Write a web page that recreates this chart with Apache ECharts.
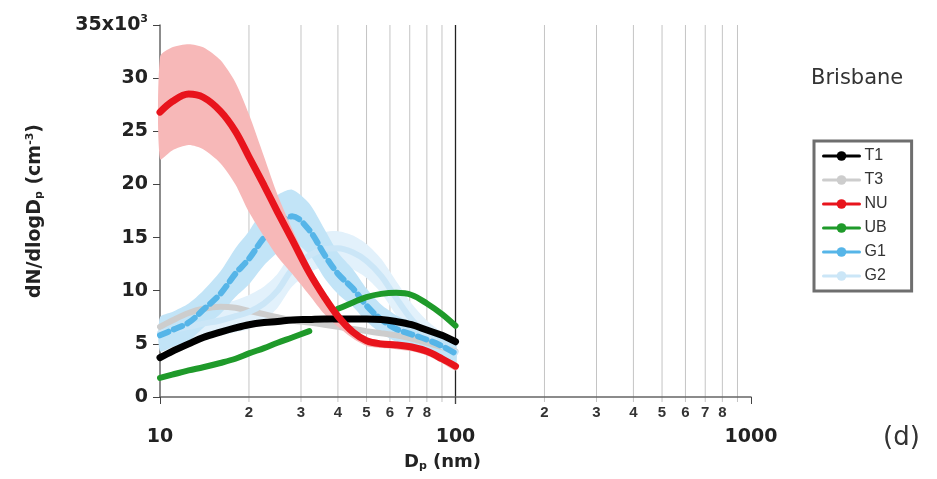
<!DOCTYPE html>
<html><head><meta charset="utf-8">
<script src="https://cdn.jsdelivr.net/npm/echarts@6/dist/echarts.min.js"></script>
<style>html,body{margin:0;padding:0;background:#fff}#c{width:937px;height:479px}</style>
</head><body><div id="c"></div>
<script>
// particle diameter (nm)
const diameters = [10, 11, 12.5, 14, 16, 18, 20, 22.5, 25, 28, 32, 36, 40, 45, 50, 56, 63, 71, 80, 90, 100];
// dN/dlogDp (x10^3 cm^-3)
const t1 = [3.7, 4.3, 5.0, 5.6, 6.1, 6.5, 6.8, 7.0, 7.1, 7.25, 7.3, 7.35, 7.35, 7.35, 7.35, 7.3, 7.1, 6.8, 6.3, 5.8, 5.2];
const t3 = [6.6, 7.2, 7.9, 8.3, 8.5, 8.4, 8.1, 7.8, 7.5, 7.2, 7.0, 6.8, 6.6, 6.4, 6.2, 6.0, 5.8, 5.5, 5.1, 4.7, 4.3];
const nu = [26.8, 27.8, 28.5, 28.2, 26.9, 25.0, 22.6, 19.9, 17.4, 14.8, 11.7, 9.4, 7.6, 6.1, 5.3, 5.0, 4.9, 4.7, 4.3, 3.6, 2.9];
const nuHigh = [32.0, 32.9, 33.2, 32.9, 31.7, 29.6, 26.6, 22.6, 19.0, 15.8, 12.4, 9.9, 8.0, 6.5, 5.6, 5.3, 5.2, 5.0, 4.6, 3.9, 3.2];
const nuLow = [22.4, 23.2, 23.7, 23.3, 22.0, 20.0, 17.4, 15.1, 13.2, 11.6, 9.6, 7.8, 6.6, 5.5, 4.8, 4.6, 4.5, 4.3, 3.9, 3.2, 2.5];
const ub = [1.8, 2.1, 2.5, 2.8, 3.2, 3.6, 4.1, 4.6, 5.1, 5.6, 6.2, null, 8.3, 8.9, 9.4, 9.7, 9.8, 9.6, 8.8, 7.8, 6.7];
const g1 = [5.8, 6.3, 7.0, 8.2, 9.7, 11.6, 13.0, 15.0, 16.2, 17.0, 15.7, 13.4, 11.6, 10.2, 8.6, 7.3, 6.4, 5.9, 5.4, 4.8, 4.1];
const g1High = [7.5, 8.0, 8.8, 10.0, 11.8, 14.0, 15.6, 17.8, 19.0, 19.5, 18.2, 15.8, 13.6, 12.0, 10.2, 8.7, 7.7, 7.1, 6.6, 5.9, 5.1];
const g1Low = [4.3, 4.7, 5.3, 6.5, 7.8, 9.4, 10.6, 12.4, 13.6, 14.6, 13.4, 11.2, 9.7, 8.5, 7.1, 6.0, 5.2, 4.8, 4.3, 3.8, 3.2];
const g2 = [6.0, 6.3, 6.6, 6.9, 7.2, 7.6, 8.0, 8.8, 10.0, 12.0, 13.3, 13.9, 14.0, 13.6, 12.8, 11.4, 9.3, 7.3, 5.8, 4.8, 4.2];
const g2High = [7.4, 7.7, 8.0, 8.3, 8.7, 9.1, 9.6, 10.4, 11.6, 13.6, 14.9, 15.5, 15.6, 15.2, 14.4, 13.0, 10.9, 8.8, 7.2, 6.1, 5.4];
const g2Low = [4.6, 4.9, 5.2, 5.5, 5.8, 6.1, 6.4, 7.2, 8.4, 10.4, 11.7, 12.3, 12.4, 12.0, 11.2, 9.8, 7.7, 5.8, 4.4, 3.5, 3.0];
// x-axis minor grid lines and their labels
const gridValues = [20, 30, 40, 50, 60, 70, 80, 90, 100, 200, 300, 400, 500, 600, 700, 800, 900];
const gridLabels = ['2', '3', '4', '5', '6', '7', '8', '', '', '2', '3', '4', '5', '6', '7', '8', ''];
const yTicks = [0, 5, 10, 15, 20, 25, 30, 35];

const FONT = 'DejaVu Sans';
const zip = (ys) => diameters.map((d, i) => [d, ys[i]]);

function band(low, high, color, z) {
  return {
    type: 'custom', coordinateSystem: 'cartesian2d', silent: true, clip: false, z: z,
    data: diameters.map((d, i) => [d, low[i], high[i]]), encode: { x: 0, y: [1, 2] },
    renderItem: (params, api) => {
      if (params.dataIndex !== 0) return null;
      const up = diameters.map((d, i) => api.coord([d, high[i]]));
      const lo = diameters.map((d, i) => api.coord([d, low[i]])).reverse();
      return { type: 'polygon', shape: { points: up.concat(lo), smooth: 0.25 },
        style: { fill: color, stroke: null } };
    }
  };
}
function line(name, ys, color, width, z, dash) {
  return { name, type: 'line', data: zip(ys), smooth: 0.35, symbol: 'circle', symbolSize: 9, showSymbol: false,
    connectNulls: false, itemStyle: { color }, lineStyle: { color, width, type: dash || 'solid', cap: 'round' }, z: z };
}

const chart = echarts.init(document.getElementById('c'), null, { renderer: 'canvas' });
chart.setOption({
  animation: false,
  backgroundColor: '#fff',
  grid: { left: 160, right: 186, top: 25, bottom: 82 },
  title: [
    { text: 'Brisbane', left: 806, top: 63, textStyle: { fontFamily: FONT, fontSize: 21, fontWeight: 'normal', color: '#333' } },
    { text: '(d)', left: 878, top: 420, textStyle: { fontFamily: FONT, fontSize: 26, fontWeight: 'normal', color: '#333' } }
  ],
  legend: {
    data: ['T1', 'T3', 'NU', 'UB', 'G1', 'G2'],
    orient: 'vertical', left: 814, top: 141,
    borderColor: '#6e6e6e', borderWidth: 3, borderRadius: 0,
    padding: [7, 24, 7, 8], itemGap: 8, itemWidth: 36, itemHeight: 12,
    lineStyle: { width: 3, type: 'solid' },
    textStyle: { fontFamily: 'Liberation Sans', fontSize: 16, color: '#333' }
  },
  xAxis: {
    type: 'log', logBase: 10, min: 10, max: 1000,
    axisLine: { lineStyle: { color: '#666', width: 1.5 } },
    axisTick: { show: true, length: 7, lineStyle: { color: '#444' } },
    axisLabel: { fontFamily: FONT, fontSize: 19, fontWeight: 'bold', color: '#222', margin: 31,
      formatter: (v) => String(Math.round(v)) },
    splitLine: { show: false }, minorTick: { show: false },
    name: 'D{sub|p} (nm)', nameLocation: 'middle', nameGap: 56,
    nameTextStyle: { fontFamily: FONT, fontSize: 18, fontWeight: 'bold', color: '#222', padding: [0, 26, 0, 0],
      rich: { sub: { fontFamily: FONT, fontSize: 11, fontWeight: 'bold', color: '#222', padding: [8, 0, 0, 0] } } }
  },
  yAxis: {
    type: 'value', min: 0, max: 35, interval: 5,
    axisLine: { show: true, lineStyle: { color: '#666', width: 1.5 } },
    axisTick: { show: true, length: 7, lineStyle: { color: '#444' } },
    axisLabel: {
      fontFamily: FONT, fontSize: 19, fontWeight: 'bold', color: '#222', margin: 12,
      formatter: (v) => (v === yTicks[yTicks.length - 1] ? v + 'x10{sup|3}' : String(v)),
      rich: { sup: { fontFamily: FONT, fontSize: 11, fontWeight: 'bold', color: '#222', padding: [0, 0, 12, 0] } }
    },
    splitLine: { show: false },
    name: 'dN/dlogD{sub|p} (cm{sup|-3})', nameLocation: 'middle', nameGap: 114, nameRotate: 90,
    nameTextStyle: { fontFamily: FONT, fontSize: 19, fontWeight: 'bold', color: '#222',
      rich: {
        sub: { fontFamily: FONT, fontSize: 11, fontWeight: 'bold', color: '#222', padding: [8, 0, 0, 0] },
        sup: { fontFamily: FONT, fontSize: 11, fontWeight: 'bold', color: '#222', padding: [0, 0, 10, 0] }
      } }
  },
  series: [
    {
      type: 'custom', coordinateSystem: 'cartesian2d', silent: true, clip: false, z: 0,
      data: gridValues.map((v, i) => [v, i]), encode: { x: 0, y: 1 },
      renderItem: (params, api) => {
        const x = api.value(0), idx = api.value(1);
        const p0 = api.coord([x, 0]), p1 = api.coord([x, 35]);
        const major = x === 100;
        return { type: 'group', children: [
          { type: 'line', shape: { x1: p0[0], y1: p0[1] + (major ? 7 : 5), x2: p0[0], y2: p1[1] },
            style: { stroke: major ? '#222' : '#c4c4c4', lineWidth: major ? 1.3 : 1 } },
          { type: 'text', x: p0[0], y: p0[1] + 8,
            style: { text: gridLabels[idx], align: 'center', verticalAlign: 'top', fontFamily: 'Liberation Sans',
              fontSize: 15, fontWeight: 'bold', fill: '#333' } }
        ] };
      }
    },
    band(g2Low, g2High, '#e2f1fb', 1),
    band(g1Low, g1High, '#c2e4f7', 2),
    line('T3', t3, '#cdcdcd', 6, 3),
    line('G2', g2, '#cbe6f7', 6, 3),
    line('G1', g1, '#56b5e8', 6, 3, [9, 6]),
    line('UB', ub, '#1f9a2a', 6, 3),
    band(nuLow, nuHigh, '#f7b8b8', 4),
    line('T1', t1, '#000000', 7, 5),
    line('NU', nu, '#e8141c', 7, 6)
  ]
});
</script></body></html>
